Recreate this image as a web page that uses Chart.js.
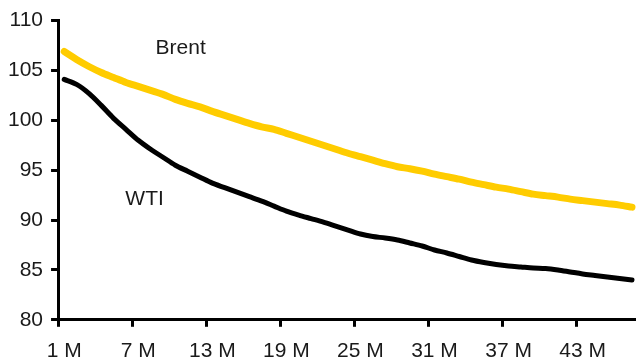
<!DOCTYPE html>
<html>
<head>
<meta charset="utf-8">
<script src="https://cdn.jsdelivr.net/npm/chart.js@4/dist/chart.umd.min.js"></script>
<style>
  html, body { margin: 0; padding: 0; background: #fff; overflow: hidden; }
  #wrap { position: relative; width: 644px; height: 376px; }
</style>
</head>
<body>
<div id="wrap"><canvas id="curveChart"></canvas></div>
<script>
// forward months
const months = ['1 M','2 M','3 M','4 M','5 M','6 M','7 M','8 M','9 M','10 M',
  '11 M','12 M','13 M','14 M','15 M','16 M','17 M','18 M','19 M','20 M',
  '21 M','22 M','23 M','24 M','25 M','26 M','27 M','28 M','29 M','30 M',
  '31 M','32 M','33 M','34 M','35 M','36 M','37 M','38 M','39 M','40 M',
  '41 M','42 M','43 M','44 M','45 M','46 M','47 M'];

const brent = [106.9,106.1,105.4,104.8,104.3,103.8,103.4,103.0,102.6,102.1,
  101.7,101.35,100.9,100.5,100.1,99.7,99.35,99.1,98.7,98.3,
  97.9,97.5,97.1,96.7,96.35,96.0,95.65,95.35,95.15,94.9,
  94.6,94.35,94.1,93.8,93.55,93.3,93.1,92.85,92.6,92.45,
  92.3,92.1,91.95,91.8,91.65,91.5,91.3];

const wti = [104.1,103.6,102.7,101.5,100.2,99.1,98.0,97.1,96.3,95.5,
  94.9,94.3,93.7,93.25,92.8,92.35,91.9,91.4,90.9,90.5,
  90.15,89.8,89.4,89.0,88.6,88.35,88.2,88.0,87.7,87.4,
  87.0,86.7,86.35,86.0,85.75,85.55,85.4,85.3,85.2,85.15,
  85.0,84.8,84.6,84.45,84.3,84.15,84.0];

const yTicks = [80, 85, 90, 95, 100, 105, 110];

// series name labels, placed at [category index, value]
const seriesNotes = [
  { text: 'Brent', at: [7.4, 107.2] },
  { text: 'WTI', at: [4.95, 92.1] }
];

const FONT = "'Liberation Sans', Arial, sans-serif";

const notesPlugin = {
  id: 'notes',
  afterDatasetsDraw(chart) {
    const ctx = chart.ctx;
    const xs = chart.scales.x, ys = chart.scales.y;
    ctx.save();
    ctx.font = '21px ' + FONT;
    ctx.fillStyle = '#1a1a1a';
    ctx.textAlign = 'left';
    ctx.textBaseline = 'middle';
    seriesNotes.forEach(n => {
      const x = xs.getPixelForValue(n.at[0]);
      const y = ys.getPixelForValue(n.at[1]);
      ctx.fillText(n.text, x, y);
    });
    ctx.restore();
  }
};

const ctx = document.getElementById('curveChart').getContext('2d');
const myChart = new Chart(ctx, {
  type: 'line',
  data: {
    labels: months,
    datasets: [{
      label: 'Brent',
      data: brent,
      borderColor: '#FFCC00',
      borderWidth: 7,
      borderCapStyle: 'round',
      borderJoinStyle: 'round',
      pointRadius: 0,
      tension: 0.3
    }, {
      label: 'WTI',
      data: wti,
      borderColor: '#000000',
      borderWidth: 5,
      borderCapStyle: 'round',
      borderJoinStyle: 'round',
      pointRadius: 0,
      tension: 0.3
    }]
  },
  options: {
    responsive: true,
    maintainAspectRatio: false,
    animation: false,
    layout: { padding: { top: 6, right: 0, left: 0, bottom: 0 } },
    plugins: {
      legend: { display: false },
      tooltip: { enabled: false }
    },
    scales: {
      x: {
        offset: true,
        border: { color: '#000', width: 3 },
        grid: {
          offset: true,
          drawOnChartArea: false,
          drawTicks: true,
          tickLength: 7,
          tickWidth: 3,
          tickColor: (c) => (c.index % 6 === 0 ? '#000' : 'rgba(0,0,0,0)')
        },
        ticks: {
          autoSkip: false,
          maxRotation: 0,
          padding: 12,
          color: '#1a1a1a',
          font: { family: FONT, size: 21 },
          callback: function (v, i) { return i % 6 === 0 ? months[i] : ''; }
        }
      },
      y: {
        min: yTicks[0],
        max: yTicks[yTicks.length - 1],
        border: { color: '#000', width: 3 },
        grid: {
          drawOnChartArea: false,
          drawTicks: true,
          tickLength: 7,
          tickWidth: 3,
          tickColor: '#000'
        },
        afterBuildTicks: (axis) => { axis.ticks = yTicks.map(v => ({ value: v })); },
        ticks: {
          padding: 8,
          color: '#1a1a1a',
          font: { family: FONT, size: 21 }
        }
      }
    }
  },
  plugins: [notesPlugin]
});
</script>
</body>
</html>
